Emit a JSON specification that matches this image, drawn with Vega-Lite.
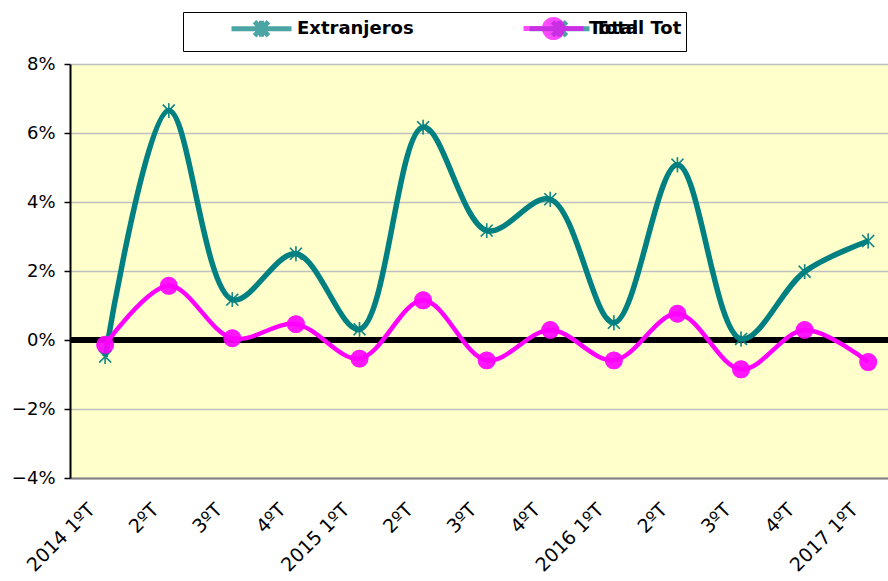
{
  "$schema": "https://vega.github.io/schema/vega-lite/v6.json",
  "width": 818,
  "height": 414,
  "autosize": "none",
  "padding": {"left": 70, "top": 64, "right": 0, "bottom": 103},
  "background": "white",
  "config": {"view": {"fill": "#FFFFCC", "stroke": null}, "font": "DejaVu Sans"},
  "data": {"values": [
    {"q": "2014 1ºT", "serie": "Extranjeros", "v": -0.0048},
    {"q": "2014 2ºT", "serie": "Extranjeros", "v": 0.0665},
    {"q": "2014 3ºT", "serie": "Extranjeros", "v": 0.0117},
    {"q": "2014 4ºT", "serie": "Extranjeros", "v": 0.025},
    {"q": "2015 1ºT", "serie": "Extranjeros", "v": 0.0031},
    {"q": "2015 2ºT", "serie": "Extranjeros", "v": 0.0617},
    {"q": "2015 3ºT", "serie": "Extranjeros", "v": 0.0317},
    {"q": "2015 4ºT", "serie": "Extranjeros", "v": 0.0408},
    {"q": "2016 1ºT", "serie": "Extranjeros", "v": 0.005},
    {"q": "2016 2ºT", "serie": "Extranjeros", "v": 0.0508},
    {"q": "2016 3ºT", "serie": "Extranjeros", "v": 0.0003},
    {"q": "2016 4ºT", "serie": "Extranjeros", "v": 0.0198},
    {"q": "2017 1ºT", "serie": "Extranjeros", "v": 0.0287},
    {"q": "2014 1ºT", "serie": "Total", "v": -0.0014},
    {"q": "2014 2ºT", "serie": "Total", "v": 0.0157},
    {"q": "2014 3ºT", "serie": "Total", "v": 0.0005},
    {"q": "2014 4ºT", "serie": "Total", "v": 0.0046},
    {"q": "2015 1ºT", "serie": "Total", "v": -0.0054},
    {"q": "2015 2ºT", "serie": "Total", "v": 0.0115},
    {"q": "2015 3ºT", "serie": "Total", "v": -0.0059},
    {"q": "2015 4ºT", "serie": "Total", "v": 0.0029},
    {"q": "2016 1ºT", "serie": "Total", "v": -0.0059},
    {"q": "2016 2ºT", "serie": "Total", "v": 0.0076},
    {"q": "2016 3ºT", "serie": "Total", "v": -0.0085},
    {"q": "2016 4ºT", "serie": "Total", "v": 0.0029},
    {"q": "2017 1ºT", "serie": "Total", "v": -0.0064}
  ]},
  "encoding": {
    "x": {
      "field": "q", "type": "nominal", "sort": null,
      "scale": {"type": "point", "padding": 0.432, "align": 0.64},
      "axis": {
        "title": null, "labelAngle": -45, "ticks": false, "grid": false,
        "domainColor": "#808080", "domainWidth": 2,
        "labelFont": "DejaVu Sans", "labelFontSize": 19, "labelColor": "black",
        "labelPadding": 22, "labelOffset": -20,
        "labelExpr": "indexof(datum.value, '1º') > 0 ? datum.value : substring(datum.value, 5)"
      }
    },
    "y": {
      "field": "v", "type": "quantitative",
      "scale": {"domain": [-0.04, 0.08], "nice": false, "zero": false},
      "axis": {
        "title": null, "values": [-0.04, -0.02, 0, 0.02, 0.04, 0.06, 0.08], "format": ".0%",
        "domainColor": "black", "domainWidth": 2, "tickColor": "black", "tickSize": 6, "tickWidth": 1.5,
        "labelFont": "DejaVu Sans", "labelFontSize": 18, "labelColor": "black", "labelPadding": 9,
        "grid": true, "gridColor": "#BFBFBF", "gridWidth": 1.5
      }
    }
  },
  "resolve": {"scale": {"fill": "independent"}, "legend": {"fill": "independent"}},
  "layer": [
    {
      "mark": {"type": "rule", "color": "black", "strokeWidth": 4.5},
      "encoding": {"y": {"datum": 0}, "x": null}
    },
    {
      "mark": {"type": "line", "interpolate": "catmull-rom"},
      "encoding": {
        "color": {
          "field": "serie", "type": "nominal",
          "scale": {"domain": ["Extranjeros", "Total"], "range": ["#008080", "#FF00FF"]},
          "legend": null
        },
        "strokeWidth": {
          "field": "serie", "type": "nominal",
          "scale": {"domain": ["Extranjeros", "Total"], "range": [5.5, 4.5]},
          "legend": null
        }
      }
    },
    {
      "mark": {"type": "point", "filled": true, "strokeWidth": 1.5},
      "encoding": {
        "fill": {
          "field": "serie", "type": "nominal",
          "scale": {"domain": ["Extranjeros", "Total"], "range": ["#008080", "#FF00FF"]},
          "legend": {
            "orient": "none", "legendX": 113, "legendY": -52, "direction": "horizontal",
            "values": ["Extranjeros", "Total"],
            "title": "\u00a0", "titleOrient": "left", "titlePadding": 62, "titleFontSize": 16,
            "strokeColor": "black", "padding": 4, "columnPadding": 105,
            "symbolType": "M-3,0L3,0M0,-0.8L0,0.8M-0.7,-0.7L0.7,0.7M-0.7,0.7L0.7,-0.7",
            "symbolSize": 400, "symbolStrokeWidth": 5, "symbolStrokeColor": "#008080", "labelOffset": 23, "labelLimit": 400,
            "labelFont": "DejaVu Sans", "labelFontSize": 18, "labelFontWeight": "bold", "labelColor": "black",
            "labelExpr": "datum.value == 'Total' ? 'Total Tot' : datum.value",
            "encode": {
              "legend": {"update": {"strokeWidth": {"value": 2}}},
              "symbols": {"update": {
                "stroke": {"signal": "datum.value == 'Total' ? 'transparent' : '#008080'"},
                "fill": {"signal": "datum.value == 'Total' ? 'transparent' : '#008080'"},
                "strokeWidth": {"value": 5}
              }},
              "labels": {"update": {
                "fill": {"signal": "datum.value == 'Total' ? 'transparent' : 'black'"}
              }}
            }
          }
        },
        "stroke": {
          "field": "serie", "type": "nominal",
          "scale": {"domain": ["Extranjeros", "Total"], "range": ["#008080", "#FF00FF"]},
          "legend": null
        },
        "shape": {
          "field": "serie", "type": "nominal",
          "scale": {"domain": ["Extranjeros", "Total"], "range": ["M0,-1L0,1M-0.8,-0.8L0.8,0.8M-0.8,0.8L0.8,-0.8", "circle"]},
          "legend": null
        },
        "size": {
          "field": "serie", "type": "nominal",
          "scale": {"domain": ["Extranjeros", "Total"], "range": [220, 270]},
          "legend": null
        }
      }
    },
    {
      "mark": {"type": "point", "filled": true, "strokeWidth": 1.5},
      "encoding": {
        "fill": {
          "field": "serie", "type": "nominal",
          "scale": {"domain": ["Total", "Extranjeros"], "range": ["#FF00FF", "#008080"]},
          "legend": {
            "orient": "none", "legendX": 467, "legendY": -52, "direction": "horizontal",
            "values": ["Total"], "title": null, "padding": 4,
            "symbolType": "M-3,0L3,0M0.9,0A0.9,0.9 0 1 1 -0.9,0A0.9,0.9 0 1 1 0.9,0Z",
            "symbolSize": 400, "symbolStrokeWidth": 5, "symbolStrokeColor": "#FF00FF", "labelOffset": 23,
            "labelFont": "DejaVu Sans", "labelFontSize": 18, "labelFontWeight": "bold", "labelColor": "black",
            "encode": {"symbols": {"update": {"stroke": {"value": "#FF00FF"}, "strokeWidth": {"value": 5}}}}
          }
        },
        "stroke": {
          "field": "serie", "type": "nominal",
          "scale": {"domain": ["Extranjeros", "Total"], "range": ["#008080", "#FF00FF"]},
          "legend": null
        },
        "shape": {
          "field": "serie", "type": "nominal",
          "scale": {"domain": ["Extranjeros", "Total"], "range": ["M0,-1L0,1M-0.8,-0.8L0.8,0.8M-0.8,0.8L0.8,-0.8", "circle"]},
          "legend": null
        },
        "size": {
          "field": "serie", "type": "nominal",
          "scale": {"domain": ["Extranjeros", "Total"], "range": [220, 270]},
          "legend": null
        }
      }
    }
  ]
}
